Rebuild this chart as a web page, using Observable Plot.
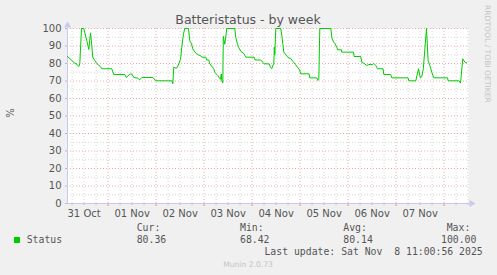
<!DOCTYPE html>
<html><head><meta charset="utf-8">
<script src="https://cdn.jsdelivr.net/npm/d3@7"></script>
<script src="https://cdn.jsdelivr.net/npm/@observablehq/plot@0.6"></script>
<style>
html,body{margin:0;padding:0;background:#f0f0f0;}
#wrap{position:relative;width:497px;height:275px;background:#f0f0f0;overflow:hidden;}
#wrap svg{position:absolute;left:0;top:0;}
</style></head><body><div id="wrap"></div>
<script>
const title = "Batteristatus - by week";
const yLabel = "%";
const seriesName = "Status";
const statHeads = ["Cur:", "Min:", "Avg:", "Max:"];
const statValues = ["80.36", "68.42", "80.14", "100.00"];
const lastUpdate = "Last update: Sat Nov  8 11:00:56 2025";
const footer = "Munin 2.0.73";
const watermark = "RRDTOOL / TOBI OETIKER";
const xDomain = ["2025-10-31T03:42", "2025-11-08T12:12"];
const dayLabels = ["2025-10-31","2025-11-01","2025-11-02","2025-11-03","2025-11-04","2025-11-05","2025-11-06","2025-11-07"];
const yTicks = [0,10,20,30,40,50,60,70,80,90,100];

const times = [
"2025-10-31T03:42","2025-10-31T06:51","2025-10-31T08:51","2025-10-31T09:21","2025-10-31T09:51","2025-10-31T10:42","2025-10-31T11:51","2025-10-31T13:21","2025-10-31T14:21","2025-10-31T15:12",
"2025-10-31T15:51","2025-10-31T16:21","2025-10-31T17:21","2025-10-31T18:21","2025-10-31T19:21","2025-10-31T20:21","2025-10-31T20:51","2025-11-01T01:51","2025-11-01T02:51","2025-11-01T08:21",
"2025-11-01T09:06","2025-11-01T10:21","2025-11-01T11:06","2025-11-01T11:51","2025-11-01T12:51","2025-11-01T14:51","2025-11-01T15:51","2025-11-01T16:51","2025-11-01T22:21","2025-11-01T23:51",
"2025-11-02T07:51","2025-11-02T08:21","2025-11-02T08:51","2025-11-02T09:51","2025-11-02T10:36","2025-11-02T11:21","2025-11-02T12:12","2025-11-02T12:51","2025-11-02T13:42","2025-11-02T14:21",
"2025-11-02T16:12","2025-11-02T16:51","2025-11-02T17:42","2025-11-02T18:21","2025-11-02T19:21","2025-11-02T20:21","2025-11-02T21:21","2025-11-02T22:21","2025-11-02T22:51","2025-11-03T00:51",
"2025-11-03T01:21","2025-11-03T02:21","2025-11-03T02:51","2025-11-03T03:51","2025-11-03T04:51","2025-11-03T05:21","2025-11-03T06:21","2025-11-03T06:51","2025-11-03T07:21","2025-11-03T08:12",
"2025-11-03T08:36","2025-11-03T08:51","2025-11-03T09:21","2025-11-03T09:36","2025-11-03T10:21","2025-11-03T11:21","2025-11-03T15:21","2025-11-03T15:51","2025-11-03T16:42","2025-11-03T17:21",
"2025-11-03T18:21","2025-11-03T20:00","2025-11-03T20:51","2025-11-04T01:00","2025-11-04T01:30","2025-11-04T04:21","2025-11-04T05:21","2025-11-04T06:00","2025-11-04T08:30","2025-11-04T09:12",
"2025-11-04T09:51","2025-11-04T10:21","2025-11-04T10:51","2025-11-04T11:06","2025-11-04T11:21","2025-11-04T11:51","2025-11-04T14:21","2025-11-04T14:51","2025-11-04T15:51","2025-11-04T16:51",
"2025-11-04T17:51","2025-11-04T19:21","2025-11-04T20:21","2025-11-04T21:42","2025-11-04T22:42","2025-11-04T23:42","2025-11-05T00:21","2025-11-05T04:30","2025-11-05T04:51","2025-11-05T08:21",
"2025-11-05T08:51","2025-11-05T09:21","2025-11-05T09:51","2025-11-05T15:21","2025-11-05T16:00","2025-11-05T16:51","2025-11-05T17:30","2025-11-05T18:21","2025-11-05T18:51","2025-11-05T20:42",
"2025-11-05T20:51","2025-11-06T02:42","2025-11-06T03:00","2025-11-06T06:21","2025-11-06T06:51","2025-11-06T08:00","2025-11-06T09:21","2025-11-06T10:21","2025-11-06T12:12","2025-11-06T12:51",
"2025-11-06T13:51","2025-11-06T14:42","2025-11-06T17:30","2025-11-06T17:51","2025-11-06T21:21","2025-11-06T21:51","2025-11-07T06:00","2025-11-07T06:21","2025-11-07T09:51","2025-11-07T11:12",
"2025-11-07T12:06","2025-11-07T12:51","2025-11-07T13:36","2025-11-07T15:12","2025-11-07T16:00","2025-11-07T16:51","2025-11-07T17:51","2025-11-07T18:51","2025-11-08T01:42","2025-11-08T02:00",
"2025-11-08T07:30","2025-11-08T08:12","2025-11-08T09:21","2025-11-08T09:51","2025-11-08T10:30","2025-11-08T11:12"
];
const values = [
84,80.7,79,78.3,80,100,100,93,88,97.5,
90,83.6,81.7,80,79,78,77,77,73.7,73.7,
72,73.3,74,74,72,71.6,70.7,72,72,70.1,
70.1,68.4,78,77.3,77.7,79.8,82.3,89.3,97,100,
100,93,91.2,88.4,86.5,85.5,84.8,84.4,83.6,83.6,
82,82,79.8,78.3,77,75,73.7,73.1,72.2,71,
74,70.1,69,95.5,91,100,100,94.7,91,89,
87,85.5,83.6,83.6,82,82,80.7,79.8,79.8,77.9,
77,78.9,79.8,89.3,85,100,100,96,86.5,85,
83.6,82.7,81.3,79.4,77.9,76.4,74.1,74.1,71.8,71.8,
70.3,70.9,100,100,94,92.2,91.2,89.3,87.8,87.8,
86.5,86.5,84,84,80.7,80,78.9,79.4,79.4,80,
78.9,77,77,73.7,73.7,71.8,71.8,70.1,70.1,77,
71.8,72.5,77,100,81.7,78.9,75,71.8,71.8,70.1,
70.1,68.8,82.7,81.7,80.7,80.4
];

const parse = d3.timeParse("%Y-%m-%dT%H:%M");
const parseDay = d3.timeParse("%Y-%m-%d");
const data = times.map((t, i) => ({t: parse(t), v: values[i]}));
const x0 = parse(xDomain[0]), x1 = parse(xDomain[1]);
const days = d3.timeDay.range(d3.timeDay.ceil(x0), x1);
const sixH = d3.timeHour.every(6).range(x0, x1).filter(d => d.getHours() !== 0);
const labelDates = dayLabels.map(s => d3.timeHour.offset(parseDay(s), 12));
const majorY = yTicks.filter(v => v > 0);
const minorY = yTicks.filter(v => v < 100).map(v => v + 5);

const gray = "#d6d6d6", red = "#eaaaaa", axisCol = "#c8c8f2", txt = "#555";

const chart = Plot.plot({
  width: 497, height: 275,
  marginLeft: 67, marginRight: 29, marginTop: 28, marginBottom: 72,
  style: {background: "transparent", fontFamily: "DejaVu Sans", fontSize: "10px", color: txt},
  x: {type: "time", domain: [x0, x1]},
  y: {domain: [0, 100]},
  marks: [
    Plot.frame({fill: "white", stroke: null}),
    Plot.ruleY(minorY, {stroke: gray, strokeDasharray: "1,2"}),
    Plot.ruleX(sixH, {stroke: gray, strokeDasharray: "1,2"}),
    Plot.ruleY(majorY, {stroke: red, strokeDasharray: "1,2"}),
    Plot.ruleX(days, {stroke: red, strokeDasharray: "1,2"}),
    Plot.axisX(sixH, {tickSize: 2, tickFormat: () => "", stroke: "#bbb", label: null}),
    Plot.axisX(days, {tickSize: 3, tickFormat: () => "", stroke: "#e08888", label: null}),
    Plot.axisX(labelDates, {tickSize: 0, tickPadding: 6, tickFormat: d3.timeFormat("%d %b"), label: null, fontSize: 10}),
    Plot.axisY(yTicks, {tickSize: 2, tickPadding: 4, stroke: "#bbb", label: null, fontSize: 10}),
    Plot.ruleY([0], {stroke: axisCol}),
    Plot.ruleX([x0], {y1: 0, y2: 100, stroke: axisCol}),
    Plot.dot([{x: x0, y: 100}], {x: "x", y: "y", symbol: "triangle", r: 2.6, fill: axisCol, stroke: null, dy: -3}),
    Plot.dot([{x: x1, y: 0}], {x: "x", y: "y", symbol: "triangle", r: 2.6, fill: axisCol, stroke: null, rotate: 90, dx: 3}),
    Plot.line(data, {x: "t", y: "v", stroke: "#00cc00", strokeWidth: 1})
  ]
});
document.getElementById("wrap").appendChild(chart);

const svg = d3.select(chart);
function txtAt(x, y, s, o = {}) {
  return svg.append("text").attr("x", x).attr("y", y).text(s)
    .attr("fill", o.fill || txt)
    .attr("font-family", o.family || "DejaVu Sans")
    .attr("font-size", o.size || 10)
    .attr("text-anchor", o.anchor || "start")
    .style("white-space", "pre");
}
txtAt(248, 24, title, {size: 12.5, anchor: "middle"});
svg.append("text").text(yLabel).attr("transform", "translate(14,113) rotate(-90)")
  .attr("text-anchor", "middle").attr("fill", txt).attr("font-family", "DejaVu Sans").attr("font-size", 10);
svg.append("text").text(watermark).attr("transform", "translate(484.5,5) rotate(90)")
  .attr("text-anchor", "start")
  .attr("fill", "#c4c4c4").attr("font-family", "DejaVu Sans").attr("font-size", 7.6);
const mono = {family: "DejaVu Sans Mono", size: 9.8};
const headX = [136.7, 240, 343.3, 446.7];
const valX = [136.7, 240, 343.3, 441];
statHeads.forEach((h, i) => txtAt(headX[i], 231, h, mono));
statValues.forEach((v, i) => txtAt(valX[i], 243, v, mono));
svg.append("rect").attr("x", 14).attr("y", 237).attr("width", 6).attr("height", 6).attr("fill", "#00cc00");
txtAt(26.7, 243, seriesName, mono);
txtAt(482.7, 255, lastUpdate, {...mono, anchor: "end"});
txtAt(248, 267, footer, {size: 7.6, anchor: "middle", fill: "#c4c4c4"});
</script></body></html>
